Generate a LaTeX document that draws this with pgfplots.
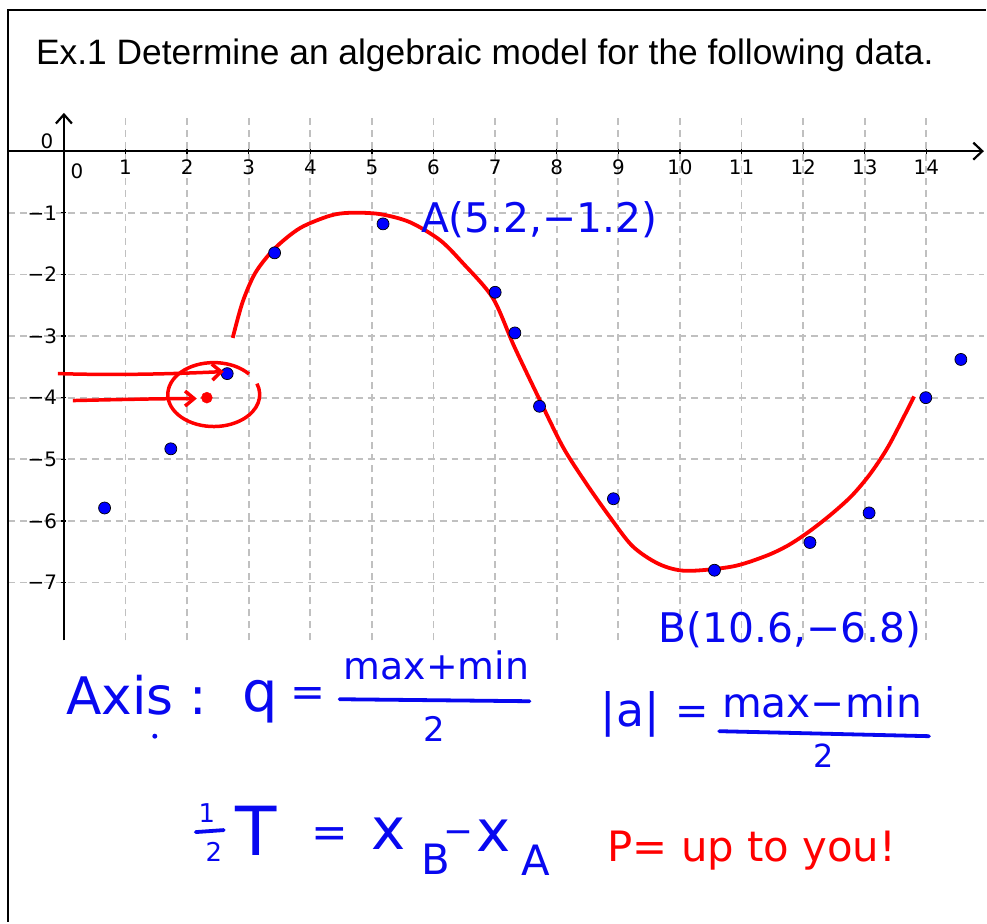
\documentclass[border=0pt]{standalone}
\usepackage{pgfplots}
\pgfplotsset{compat=1.18}
\usepackage{fontspec}
\setmainfont{Liberation Sans}
\newfontfamily\ggb{DejaVu Sans}
\newfontfamily\hand{DejaVu Sans}
\usetikzlibrary{arrows.meta}
\definecolor{ink}{RGB}{8,8,240}
\definecolor{redink}{RGB}{255,0,0}
\definecolor{gridgray}{RGB}{192,192,192}
\definecolor{ptblue}{RGB}{0,0,255}

\begin{document}
\begin{tikzpicture}
% page frame in pixel-like units (origin top left, y downwards)
\begin{scope}[x=1bp,y=-1bp]
  \path[use as bounding box] (0,0) rectangle (987,923);
\end{scope}

\begin{axis}[
  at={(8bp,-641bp)}, anchor=south west,
  scale only axis, width=977bp, height=528bp,
  xmin=-0.908, xmax=14.934, ymin=-7.937, ymax=0.621,
  axis lines=middle,
  axis line style={line width=2.2bp, black},
  x axis line style={-{Straight Barb[length=9bp,width=17bp]}},
  y axis line style={-{Straight Barb[length=9bp,width=16bp]}},
  xtick={1,...,14}, ytick={-7,...,-1},
  yticklabels={−7,−6,−5,−4,−3,−2,−1},
  grid=major,
  major grid style={gridgray, line width=1.8bp, dash pattern=on 7bp off 5bp},
  tick style={black, line width=1.3bp},
  major tick length=5bp,
  tick label style={font=\ggb\fontsize{20}{20}\selectfont},
  /pgf/number format/assume math mode=true,
  xticklabel style={yshift=-3bp},
  yticklabel style={xshift=-1bp},
]
% hand-drawn fit through the data
\addplot[redink, line width=3.8bp, smooth, no marks] coordinates {
  (2.74,-3.03) (2.9,-2.45) (3.11,-1.97) (3.42,-1.58) (3.83,-1.25)
  (4.31,-1.05) (4.64,-1.0) (5.12,-1.02) (5.61,-1.15) (6.10,-1.44)
  (6.47,-1.81) (6.96,-2.38) (7.31,-3.17) (7.72,-4.03) (8.1,-4.80)
  (8.47,-5.38) (8.85,-5.92) (9.23,-6.41) (9.66,-6.70) (10.1,-6.81)
  (10.85,-6.74) (11.39,-6.57) (11.75,-6.40) (12.1,-6.17) (12.47,-5.88)
  (12.8,-5.58) (13.1,-5.22) (13.4,-4.76) (13.8,-3.98)
};
% data points
\addplot[only marks, mark=*, mark size=6bp,
  mark options={fill=ptblue, draw=black, line width=0.7bp}] coordinates {
  (0.66,-5.79) (1.735,-4.83) (2.65,-3.61) (3.42,-1.65) (5.18,-1.18)
  (7.0,-2.29) (7.32,-2.95) (7.72,-4.14) (8.92,-5.64) (10.56,-6.80)
  (12.11,-6.35) (13.07,-5.87) (13.99,-4.0) (14.56,-3.38)
};
% marked starting value
\addplot[only marks, mark=*, mark size=5.5bp, redink] coordinates {(2.32,-4.0)};
\end{axis}

\begin{scope}[x=1bp,y=-1bp]
  % slide border
  \draw[line width=2.2bp] (8,923) -- (8,10) -- (987,10);
  % title
  \node[anchor=base west, inner sep=0pt, font=\fontsize{35.5}{40}\selectfont]
    at (36,65) {Ex.1 Determine an algebraic model for the following data.};
  % origin labels
  \node[font=\ggb\fontsize{20}{20}\selectfont] at (77,171) {0};
  \node[font=\ggb\fontsize{20}{20}\selectfont] at (47,141) {0};

  % red arrows and loop around the shifted point
  \draw[redink, line width=3.5bp, -{Straight Barb[length=9bp,width=16bp]}]
    (58,374) .. controls (120,376) and (180,374) .. (224,372);
  \draw[redink, line width=3.5bp, -{Straight Barb[length=9bp,width=15bp]}]
    (73,401) .. controls (120,400) and (160,399) .. (197,399);
  \draw[redink, line width=3.5bp]
    (214,395) ++(-40:46 and 32) arc[start angle=-40, end angle=-380,
      x radius=46, y radius=32];

  % handwritten notes
  \begin{scope}[ink]
    \node[anchor=center, font=\hand\fontsize{41}{41}\selectfont]
      at (540,220) {A(5.2,−1.2)};
    \node[anchor=center, font=\hand\fontsize{41}{41}\selectfont]
      at (791,630) {B(10.6,−6.8)};

    \node[anchor=base west, inner sep=0pt, font=\hand\fontsize{52}{52}\selectfont]
      at (66,715) {Axis :};
    \fill (155,737) circle (2.5);
    \node[anchor=base west, inner sep=0pt, font=\hand\fontsize{56}{56}\selectfont]
      at (243,712) {q};
    \node[font=\hand\fontsize{42}{42}\selectfont] at (308,698) {=};
    \node[anchor=base, inner sep=0pt, font=\hand\fontsize{38}{38}\selectfont]
      at (437,680) {max+min};
    \draw[line width=3.8bp, line cap=round] (340,700) -- (530,702);
    \node[font=\hand\fontsize{34}{34}\selectfont] at (435,730) {2};

    \node[font=\hand\fontsize{46}{46}\selectfont] at (631,715) {|a|};
    \node[font=\hand\fontsize{40}{40}\selectfont] at (693,716) {=};
    \node[anchor=base, inner sep=0pt, font=\hand\fontsize{41}{41}\selectfont]
      at (823,718) {max−min};
    \draw[line width=3.8bp, line cap=round] (720,732) -- (930,737);
    \node[font=\hand\fontsize{32}{32}\selectfont] at (825,757) {2};

    \node[font=\hand\fontsize{26}{26}\selectfont] at (207,814) {1};
    \draw[line width=3.8bp, line cap=round] (196,833) -- (224,831);
    \node[font=\hand\fontsize{26}{26}\selectfont] at (214,853) {2};
    \node[anchor=base west, inner sep=0pt, font=\hand\fontsize{68}{68}\selectfont]
      at (236,856) {T};
    \node[font=\hand\fontsize{44}{44}\selectfont] at (330,838) {=};
    \node[anchor=base west, inner sep=0pt, font=\hand\fontsize{58}{58}\selectfont]
      at (372,850) {x};
    \node[anchor=base west, inner sep=0pt, font=\hand\fontsize{42}{42}\selectfont]
      at (422,875) {B};
    \node[font=\hand\fontsize{36}{36}\selectfont] at (459,838) {−};
    \node[anchor=base west, inner sep=0pt, font=\hand\fontsize{58}{58}\selectfont]
      at (477,852) {x};
    \node[anchor=base west, inner sep=0pt, font=\hand\fontsize{42}{42}\selectfont]
      at (522,876) {A};
  \end{scope}
  \node[redink, anchor=base west, inner sep=0pt, font=\hand\fontsize{42}{42}\selectfont]
    at (608,862) {P= up to you!};
\end{scope}
\end{tikzpicture}
\end{document}
